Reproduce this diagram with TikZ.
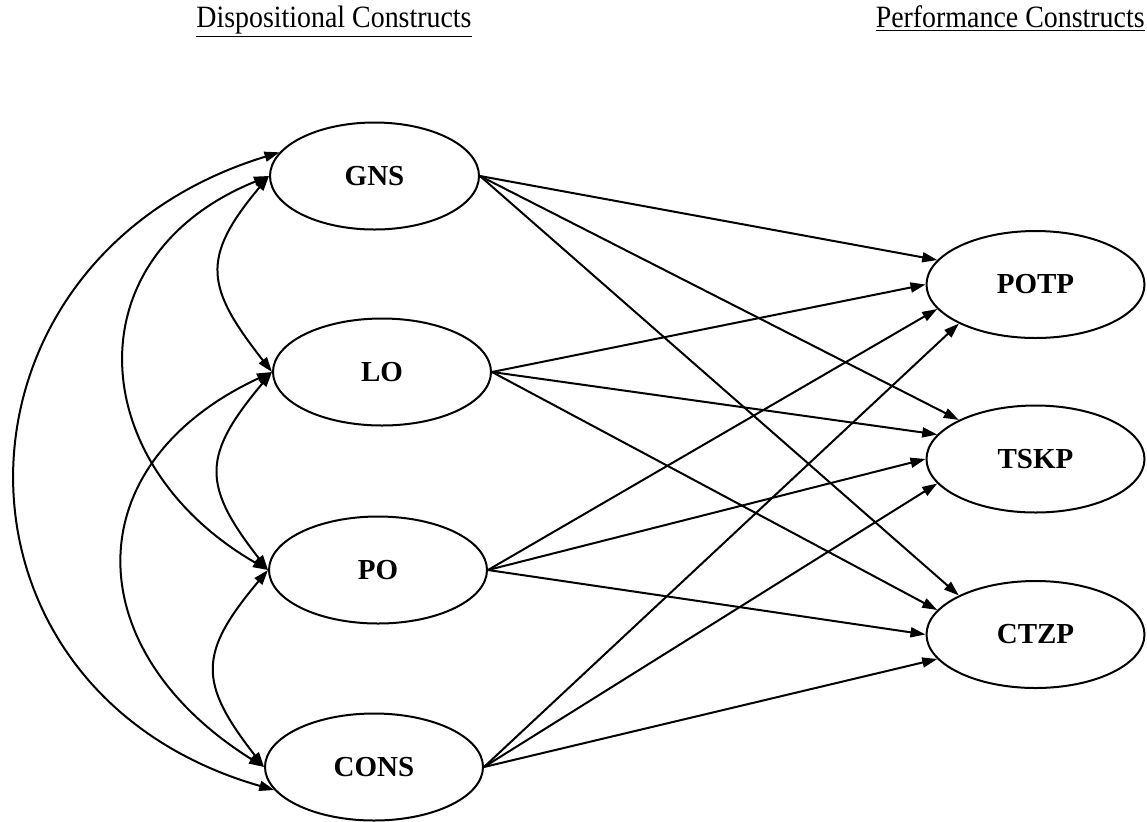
\documentclass[tikz,border=0pt]{standalone}
\usepackage{fontspec}
\setmainfont{Liberation Serif}
\newfontfamily\headfont{Liberation Serif}[FakeStretch=0.9]
\usetikzlibrary{arrows.meta, shapes.geometric}

\begin{document}
\begin{tikzpicture}[
    x=0.5pt, y=0.5pt,
    construct/.style={
        ellipse, draw=black, line width=1pt, inner sep=0pt,
        minimum width=109pt, minimum height=53.5pt,
        font=\fontsize{14.5}{17}\selectfont\bfseries
    },
    heading/.style={font=\headfont\fontsize{15.5}{18}\selectfont, inner sep=0pt},
    arr/.style={-{Triangle[length=7.5pt, width=5pt]}, line width=1pt},
    darr/.style={{Triangle[length=7.5pt, width=5pt]}-{Triangle[length=7.5pt, width=5pt]}, line width=1pt},
]
\useasboundingbox (0,0) rectangle (1147,-821);

% Headings
\node[heading, anchor=base] (disp) at (334,-27) {\underline{Dispositional Constructs}};
\node[heading, anchor=base east] (perf) at (1145,-27) {\underline{Performance Constructs}};

% Dispositional constructs
\node[construct, minimum width=104.5pt] (gns) at (374.5,-176) {GNS};
\node[construct] (lo) at (382,-372) {LO};
\node[construct] (po) at (378,-570) {PO};
\node[construct] (cons) at (374,-767) {CONS};

% Performance constructs
\node[construct] (potp) at (1035.5,-284.5) {POTP};
\node[construct] (tskp) at (1035.5,-459) {TSKP};
\node[construct] (ctzp) at (1035.5,-634.5) {CTZP};

% Correlations between dispositional constructs
\draw[darr] (gns.west) to[out=230, in=128, looseness=1.4] (lo.west);
\draw[darr] (lo.west) to[out=230, in=128, looseness=1.4] (po.west);
\draw[darr] (po.west) to[out=230, in=128, looseness=1.4] (cons.west);
\draw[darr] (gns.west) to[out=202, in=150, looseness=1.38] (po.west);
\draw[darr] (lo.west) to[out=205, in=148, looseness=1.42] (cons.west);
\draw[darr] (gns.166) to[out=197, in=164, looseness=1.45] (cons.193);

% Paths to performance constructs
\draw[arr] (gns.east) -- (potp.166);
\draw[arr] (gns.east) -- (tskp.153);
\draw[arr] (gns.east) -- (ctzp.153);
\draw[arr] (lo.east) -- (potp.180);
\draw[arr] (lo.east) -- (tskp.166);
\draw[arr] (lo.east) -- (ctzp.166);
\draw[arr] (po.east) -- (potp.194);
\draw[arr] (po.east) -- (tskp.180);
\draw[arr] (po.east) -- (ctzp.180);
\draw[arr] (cons.east) -- (potp.207);
\draw[arr] (cons.east) -- (tskp.194);
\draw[arr] (cons.east) -- (ctzp.194);

\end{tikzpicture}
\end{document}
